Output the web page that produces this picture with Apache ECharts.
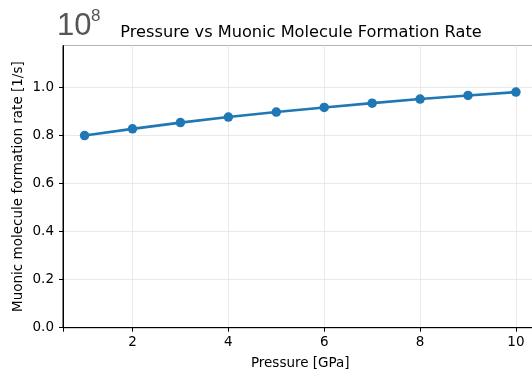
<!DOCTYPE html>
<html>
<head>
<meta charset="utf-8">
<script src="https://cdn.jsdelivr.net/npm/echarts@6/dist/echarts.min.js"></script>
<style>
  html, body { margin: 0; padding: 0; background: #fff; }
  #main { width: 532px; height: 370px; }
</style>
</head>
<body>
<div id="main"></div>
<script>
  // pressure in GPa
  var pressure = [1, 2, 3, 4, 5, 6, 7, 8, 9, 10];
  // formation rate, in units of 1e8 1/s
  var rate = [0.800, 0.828, 0.854, 0.877, 0.898, 0.917, 0.935, 0.952, 0.967, 0.981];

  var font = 'DejaVu Sans';
  var chart = echarts.init(document.getElementById('main'));

  var option = {
    backgroundColor: '#ffffff',
    animation: false,
    title: {
      text: 'Pressure vs Muonic Molecule Formation Rate',
      left: 296,
      top: 20,
      textAlign: 'center',
      textStyle: { fontFamily: font, fontSize: 16.2, fontWeight: 'normal', color: '#000' }
    },
    graphic: [
      // offset text "10^8" at top left
      { type: 'text', left: 57, top: 11,
        style: { text: '10', font: '31px "Liberation Sans"', fill: '#555555' } },
      { type: 'text', left: 91, top: 8,
        style: { text: '8', font: '17px "Liberation Sans"', fill: '#555555' } }
    ],
    grid: {
      left: 63, top: 45.5, right: -5.5, bottom: 42.3,
      outerBoundsMode: 'none',
      show: true, borderColor: '#000', borderWidth: 1
    },
    xAxis: {
      type: 'value',
      min: 0.55, max: 10.45, splitNumber: 5,
      name: 'Pressure [GPa]',
      nameLocation: 'middle',
      nameGap: 29,
      nameMoveOverlap: false,
      nameTextStyle: { fontFamily: font, fontSize: 13.5, color: '#000' },
      axisLine: { show: true, lineStyle: { color: '#000', width: 1 } },
      axisTick: { show: true, length: 4, lineStyle: { color: '#000' } },
      axisLabel: {
        fontFamily: font, fontSize: 13.5, color: '#000', margin: 8,
        formatter: function (v) { return v % 2 === 0 ? String(v) : ''; }
      },
      splitLine: { show: true, lineStyle: { color: '#e3e3e3', width: 0.8 } }
    },
    yAxis: {
      type: 'value',
      min: 0, max: 1.175, interval: 0.2,
      name: 'Muonic molecule formation rate [1/s]',
      nameLocation: 'middle',
      nameGap: 38,
      nameMoveOverlap: false,
      nameTextStyle: { fontFamily: font, fontSize: 13.5, color: '#000' },
      axisLine: { show: true, lineStyle: { color: '#000', width: 1 } },
      axisTick: { show: true, length: 4, lineStyle: { color: '#000' } },
      axisLabel: {
        fontFamily: font, fontSize: 13.5, color: '#000', margin: 9,
        showMaxLabel: false,
        formatter: function (v) { return v.toFixed(1); }
      },
      splitLine: { show: true, lineStyle: { color: '#e3e3e3', width: 0.8 } }
    },
    series: [{
      type: 'line',
      data: pressure.map(function (p, i) { return [p, rate[i]]; }),
      symbol: 'circle',
      symbolSize: 9.5,
      itemStyle: { color: '#1f77b4' },
      lineStyle: { color: '#1f77b4', width: 2.6 }
    }]
  };

  chart.setOption(option);
</script>
</body>
</html>
